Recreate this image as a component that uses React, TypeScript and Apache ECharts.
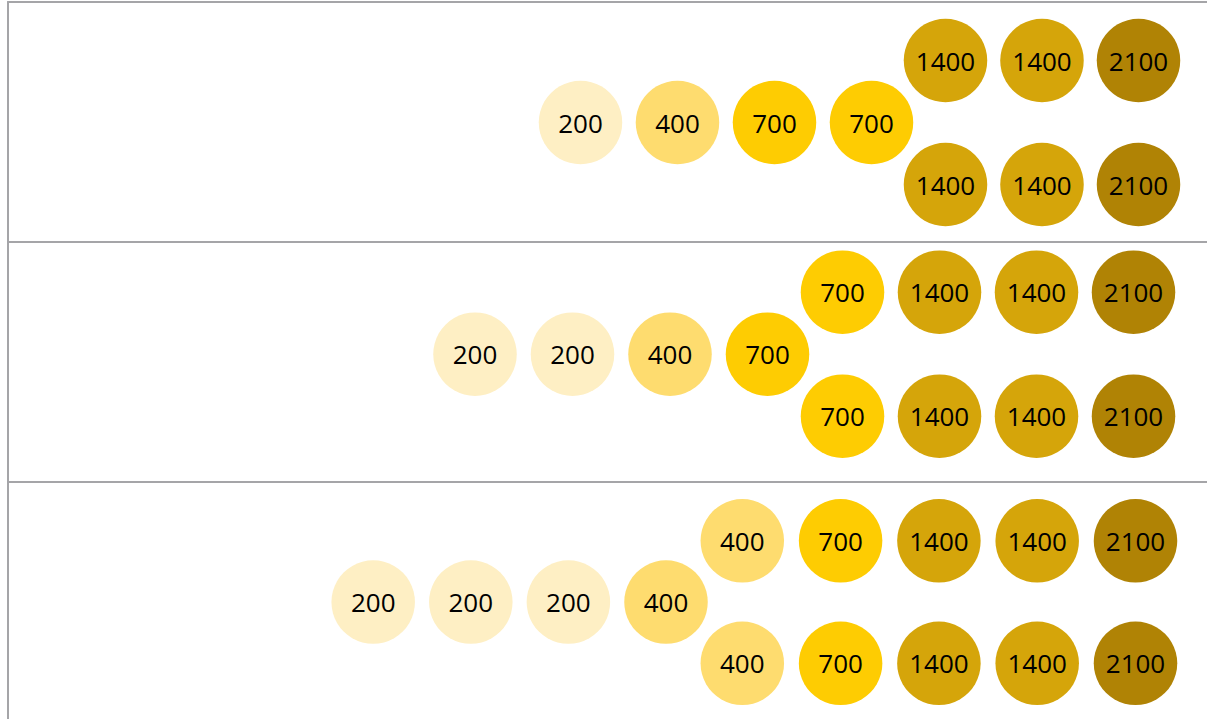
import React, { useEffect, useRef } from "react";
import * as echarts from "echarts";

// ---- data ----
const valueLevels = [200, 400, 700, 1400, 2100];
const levelColors = ["#feefc4", "#fedc6f", "#fecc02", "#d5a50a", "#b08305"];

const panel1TopRow = [1400, 1400, 2100];
const panel1MiddleRow = [200, 400, 700, 700];
const panel1BottomRow = [1400, 1400, 2100];

const panel2TopRow = [700, 1400, 1400, 2100];
const panel2MiddleRow = [200, 200, 400, 700];
const panel2BottomRow = [700, 1400, 1400, 2100];

const panel3TopRow = [400, 700, 1400, 1400, 2100];
const panel3MiddleRow = [200, 200, 200, 400];
const panel3BottomRow = [400, 700, 1400, 1400, 2100];

const panels = [
  { top: panel1TopRow, middle: panel1MiddleRow, bottom: panel1BottomRow },
  { top: panel2TopRow, middle: panel2MiddleRow, bottom: panel2BottomRow },
  { top: panel3TopRow, middle: panel3MiddleRow, bottom: panel3BottomRow },
];

// ---- layout (packing) constants ----
const PANEL_H = 240;
const FIRST_TOP = 2;
const GRID_LEFT = 8;
const WIDTH = 1207;
const ROW_GAP = 62;
const CIRCLE = 83.5;
const packing = [
  { right: 1130.5, outerStep: 96.5, gap: 74, midStep: 97, midY: 120.5 },
  { right: 1125.5, outerStep: 97, gap: 75, midStep: 97.5, midY: 112.2 },
  { right: 1127.5, outerStep: 98.3, gap: 76.3, midStep: 97.6, midY: 121.6 },
];

function buildPoints(p: any, L: any) {
  const pts: any[] = [];
  const n = p.top.length;
  const outerX = (i: number) => L.right - (n - 1 - i) * L.outerStep;
  p.top.forEach((v: number, i: number) => pts.push([outerX(i), L.midY - ROW_GAP, v]));
  p.bottom.forEach((v: number, i: number) => pts.push([outerX(i), L.midY + ROW_GAP, v]));
  const midRight = outerX(0) - L.gap;
  const m = p.middle.length;
  p.middle.forEach((v: number, j: number) =>
    pts.push([midRight - (m - 1 - j) * L.midStep, L.midY, v])
  );
  return pts;
}

export default function App() {
  const ref = useRef<HTMLDivElement>(null);
  useEffect(() => {
    if (!ref.current) return;
    const chart = echarts.init(ref.current, null, { renderer: "svg" });
    const lineStyle = { color: "#a5a5a8", width: 2 };
    const grids = panels.map((_, i) => ({
      left: GRID_LEFT,
      top: FIRST_TOP + i * PANEL_H,
      width: WIDTH - GRID_LEFT,
      height: PANEL_H,
    }));
    const xAxes = panels.map((_, i) => ({
      type: "value",
      gridIndex: i,
      min: 0,
      max: WIDTH - GRID_LEFT,
      position: "top",
      axisLine: { show: true, lineStyle },
      axisTick: { show: false },
      axisLabel: { show: false },
      splitLine: { show: false },
    }));
    const yAxes = panels.map((_, i) => ({
      type: "value",
      gridIndex: i,
      min: 0,
      max: PANEL_H,
      inverse: true,
      axisLine: { show: true, onZero: false, lineStyle },
      axisTick: { show: false },
      axisLabel: { show: false },
      splitLine: { show: false },
    }));
    const series = panels.map((p, i) => ({
      type: "scatter",
      xAxisIndex: i,
      yAxisIndex: i,
      symbol: "circle",
      symbolSize: CIRCLE,
      clip: false,
      data: buildPoints(p, packing[i]),
      label: {
        show: true,
        position: "inside",
        formatter: (d: any) => String(d.value[2]),
        color: "#000",
        fontSize: 26,
        fontFamily: "Open Sans",
      },
      itemStyle: { opacity: 1 },
      emphasis: { disabled: true },
    }));
    chart.setOption({
      animation: false,
      grid: grids,
      xAxis: xAxes,
      yAxis: yAxes,
      visualMap: {
        type: "piecewise",
        show: false,
        dimension: 2,
        seriesIndex: [0, 1, 2],
        pieces: valueLevels.map((v, k) => ({ value: v, color: levelColors[k] })),
      },
      series,
    });
    return () => chart.dispose();
  }, []);
  return (
    <div
      ref={ref}
      style={{ position: "fixed", left: 0, top: 0, width: WIDTH, height: 719, background: "#fff" }}
    />
  );
}
